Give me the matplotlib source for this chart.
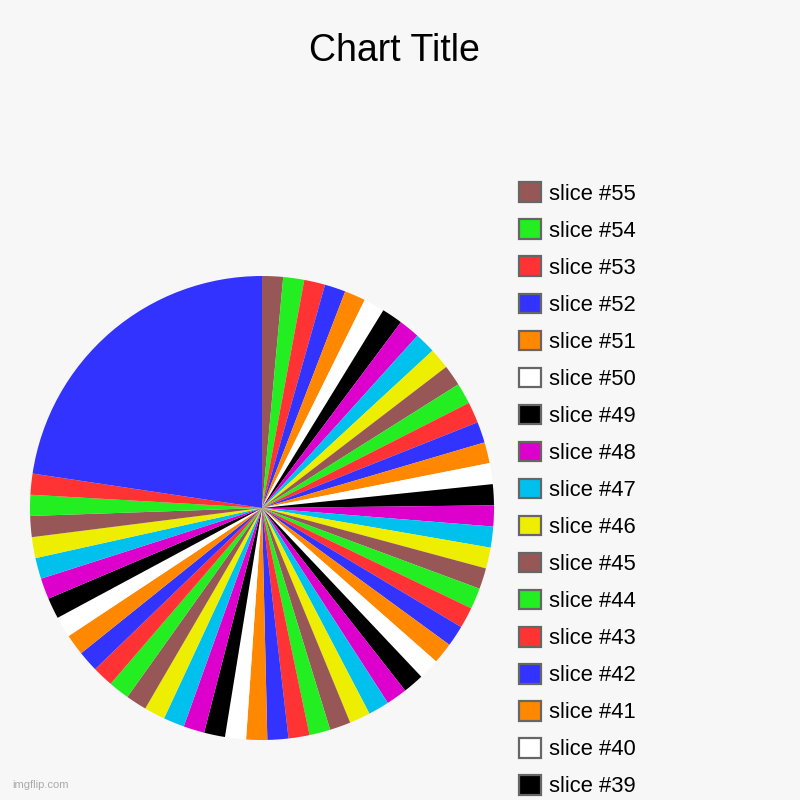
import matplotlib.pyplot as plt
from matplotlib.patches import Patch

# -----------------------------
# Data (clockwise from 12 o'clock)
# -----------------------------
slice_labels = ["slice #%d" % n for n in [
    55, 54, 53, 52, 51, 50, 49, 48, 47, 46,
    45, 44, 43, 42, 41, 40, 39, 38, 37, 36,
    35, 34, 33, 32, 31, 30, 29, 28, 27, 26,
    25, 24, 23, 22, 21, 20, 19, 18, 17, 16,
    15, 14, 13, 12, 11, 10, 9, 8, 7, 6,
    5, 4, 3, 2]]
slice_values = [
    1, 1, 1, 1, 1, 1, 1, 1, 1, 1,
    1, 1, 1, 1, 1, 1, 1, 1, 1, 1,
    1, 1, 1, 1, 1, 1, 1, 1, 1, 1,
    1, 1, 1, 1, 1, 1, 1, 1, 1, 1,
    1, 1, 1, 1, 1, 1, 1, 1, 1, 1,
    1, 1, 1, 15.5]
palette = ["#975757", "#22EE22", "#FF3333", "#3333FF", "#FF8800",
           "#FFFFFF", "#000000", "#DD00CC", "#00C0EE", "#EEEE00"]
# legend only shows the entries that fit on the page
legend_count = 17

colors = [palette[i % len(palette)] for i in range(len(slice_values))]

# -----------------------------
# Figure
# -----------------------------
bg = "#F7F7F7"
fig = plt.figure(figsize=(8, 8), dpi=100, facecolor=bg)
plt.rcParams["font.family"] = ["Liberation Sans", "DejaVu Sans"]

ax = fig.add_axes([0.0375, 0.075, 0.58, 0.58])
ax.set_facecolor(bg)
ax.pie(slice_values, colors=colors, startangle=90, counterclock=False,
       radius=1, wedgeprops=dict(linewidth=0))
ax.set_xlim(-1, 1)
ax.set_ylim(-1, 1)
ax.set_aspect("equal")
ax.axis("off")

fig.text(0.4925, 0.936, "Chart Title", ha="center", va="center",
         fontsize=27, color="black")

handles = [Patch(facecolor=c, edgecolor="#666666", linewidth=1.6)
           for c in colors[:legend_count]]
fig.legend(handles, slice_labels[:legend_count], loc="upper left",
           bbox_to_anchor=(0.649, 0.772), frameon=False, fontsize=15.8,
           handlelength=1.0, handleheight=1.0, handletextpad=0.36,
           labelspacing=0.67, borderaxespad=0, borderpad=0)

fig.text(0.015, 0.012, "imgflip.com", ha="left", va="bottom",
         fontsize=8, color="#AAAAAA")

plt.savefig("out.png", dpi=100, facecolor=bg)
plt.close()
